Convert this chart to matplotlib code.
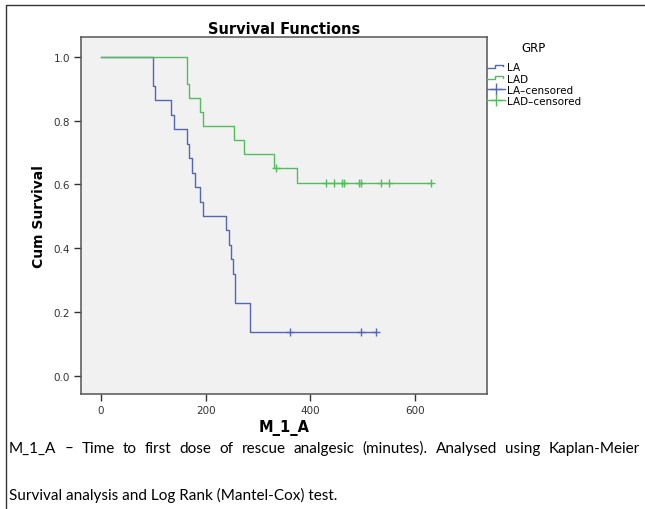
import matplotlib
matplotlib.use("Agg")
import matplotlib.pyplot as plt
from matplotlib.lines import Line2D
from matplotlib.legend_handler import HandlerBase

# Kaplan-Meier step data
la_time = [0, 100, 104, 134, 139, 164, 169, 174, 179, 190, 194, 239, 244, 249, 253, 256, 285, 526]
la_surv = [1.0, 0.909, 0.864, 0.818, 0.773, 0.727, 0.682, 0.636, 0.591, 0.545, 0.5,
           0.455, 0.409, 0.364, 0.318, 0.227, 0.136, 0.136]
la_cens_time = [361, 496, 526]
la_cens_surv = [0.136, 0.136, 0.136]

lad_time = [0, 165, 169, 190, 194, 254, 274, 330, 375, 630]
lad_surv = [1.0, 0.913, 0.870, 0.826, 0.783, 0.739, 0.696, 0.652, 0.605, 0.605]
lad_cens_time = [334, 429, 445, 461, 464, 493, 497, 534, 550, 630]
lad_cens_surv = [0.652, 0.605, 0.605, 0.605, 0.605, 0.605, 0.605, 0.605, 0.605, 0.605]

x_ticks = [0, 200, 400, 600]
y_ticks = [0.0, 0.2, 0.4, 0.6, 0.8, 1.0]
legend_labels = ["LA", "LAD", "LA\u2013censored", "LAD\u2013censored"]

caption_1 = ("M_1_A \u2013 Time to first dose of rescue analgesic (minutes). "
             "Analysed using Kaplan-Meier")
caption_2 = "Survival analysis and Log Rank (Mantel-Cox) test."

blue = "#5566b4"
green = "#52bd5c"
W, H = 645, 510


class StepHandler(HandlerBase):
    # little step icon like the SPSS legend
    def create_artists(self, legend, orig_handle, xdescent, ydescent,
                       width, height, fontsize, trans):
        x0 = -xdescent
        lo = -ydescent + height * 0.3
        hi = -ydescent + height * 0.75
        xs = [x0, x0 + width * 0.45, x0 + width * 0.45, x0 + width * 0.9, x0 + width * 0.9]
        ys = [lo, lo, hi, hi, hi - height * 0.2]
        ln = Line2D(xs, ys, color=orig_handle.get_color(), lw=1.0, transform=trans)
        return [ln]


fig = plt.figure(figsize=(W / 100, H / 100), dpi=100)
ax = fig.add_axes([81 / W, 1 - 395 / H, (487 - 81) / W, (395 - 38) / H])
ax.set_facecolor("#f1f1f1")

la_line, = ax.step(la_time, la_surv, where="post", color=blue, lw=1.0)
lad_line, = ax.step(lad_time, lad_surv, where="post", color=green, lw=1.0)
ax.plot(la_cens_time, la_cens_surv, ls="none", marker="+", ms=6, mew=1.0, color=blue)
ax.plot(lad_cens_time, lad_cens_surv, ls="none", marker="+", ms=6, mew=1.0, color=green)

ax.set_xlim(-38, 737)
ax.set_ylim(-0.058, 1.062)
ax.set_xticks(x_ticks)
ax.set_yticks(y_ticks)
ax.set_yticklabels(["%.1f" % v for v in y_ticks])
ax.tick_params(direction="out", length=5, width=1.0, labelsize=7.5, colors="#333333", pad=3)
for s in ax.spines.values():
    s.set_color("#555555")
    s.set_linewidth(1.1)

ax.set_title("Survival Functions", fontsize=10.5, fontweight="bold", pad=3)
ax.set_ylabel("Cum Survival", fontsize=10, fontweight="bold", labelpad=5)
ax.set_xlabel("M_1_A", fontsize=10.5, fontweight="bold")
ax.xaxis.set_label_coords(0.5, -0.07)

# legend proxies: censored entries show a plus on a short line
la_c = Line2D([], [], color=blue, lw=1.0, marker="+", ms=8, mew=1.0)
lad_c = Line2D([], [], color=green, lw=1.0, marker="+", ms=8, mew=1.0)
leg = fig.legend([la_line, lad_line, la_c, lad_c], legend_labels, title="GRP",
                 loc="upper left", bbox_to_anchor=(487 / W, 1 - 42 / H),
                 frameon=False, fontsize=7.5, title_fontsize=8.5, numpoints=1,
                 handler_map={la_line: StepHandler(), lad_line: StepHandler()},
                 handlelength=1.7, handletextpad=0.2, labelspacing=0.12,
                 borderaxespad=0, borderpad=0)
leg._legend_box.sep = 6

# outer frame (left and top edges)
fig.add_artist(Line2D([6 / W, 6 / W, 1.0], [0.0, 1 - 6 / H, 1 - 6 / H],
                      transform=fig.transFigure, color="#333333", lw=1.0))

# caption, first line justified across the width
fig.canvas.draw()
renderer = fig.canvas.get_renderer()
words = caption_1.split()
y1 = 1 - 449 / H
texts = [fig.text(0, y1, w, fontsize=11, family="Lato", va="center") for w in words]
widths = [t.get_window_extent(renderer).width for t in texts]
left_px, right_px = 9, 640
gap = (right_px - left_px - sum(widths)) / (len(words) - 1)
xpos = left_px
for t, w in zip(texts, widths):
    t.set_x(xpos / W)
    xpos += w + gap
fig.text(left_px / W, 1 - 495 / H, caption_2, fontsize=11, family="Lato", va="center")

fig.savefig("out.png", dpi=100)
